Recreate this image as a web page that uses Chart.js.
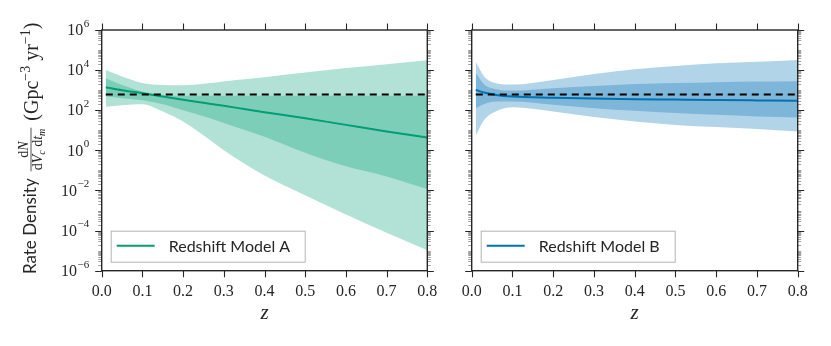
<!DOCTYPE html>
<html>
<head>
<meta charset="utf-8">
<script src="https://cdn.jsdelivr.net/npm/chart.js@4.4.0/dist/chart.umd.min.js"></script>
<style>
  html, body { margin: 0; padding: 0; background: #fff; }
  #wrap { position: relative; width: 831px; height: 346px; }
  #wrap canvas { position: absolute; left: 0; top: 0; }
</style>
</head>
<body>
<div id="wrap">
  <canvas id="chart-a" width="831" height="346"></canvas>
  <canvas id="chart-b" width="831" height="346"></canvas>
</div>
<script>
// Redshift Model A (left panel)
const zA = [0.01, 0.05, 0.1, 0.15, 0.2, 0.25, 0.3, 0.35, 0.4, 0.5, 0.6, 0.7, 0.8];
const medianA = [1410, 1000, 708, 479, 331, 234, 166, 115, 79.4, 39.8, 18.6, 8.7, 4.4];
const inner50HiA = [3980, 1820, 850, 562, 525, 525, 525, 525, 525, 525, 525, 525, 525];
const inner50LoA = [479, 398, 316, 200, 100, 50, 23.4, 10.7, 4.8, 0.76, 0.16, 0.05, 0.0117];
const outer90HiA = [10000, 4790, 2290, 1820, 1780, 2090, 2690, 3470, 4470, 7590, 12600, 19500, 30900];
const outer90LoA = [151, 178, 200, 87, 27.5, 5.6, 1.0, 0.224, 0.056, 0.0058, 6.3e-4, 7.9e-5, 1.05e-5];

// Redshift Model B (right panel)
const zB = [0.01, 0.03, 0.06, 0.1, 0.2, 0.3, 0.4, 0.5, 0.6, 0.7, 0.8];
const medianB = [1020, 759, 575, 479, 417, 380, 355, 339, 324, 309, 295];
const inner50HiB = [7080, 2000, 1120, 955, 1260, 1620, 2040, 2290, 2510, 2690, 2820];
const inner50LoB = [126, 200, 269, 269, 186, 126, 93, 72, 59, 49, 44];
const outer90HiB = [26300, 5010, 2240, 1910, 3240, 6460, 11000, 16200, 21900, 26300, 32400];
const outer90LoB = [5.4, 31.6, 89, 141, 87, 45.7, 27.5, 18.6, 14.5, 11.5, 8.7];

// Constant-rate reference (dashed line)
const constZ = [0.01, 0.8];
const constRate = [600, 600];

// Axes
const xTicks = [0, 0.1, 0.2, 0.3, 0.4, 0.5, 0.6, 0.7, 0.8];
const xTickLabels = ['0.0', '0.1', '0.2', '0.3', '0.4', '0.5', '0.6', '0.7', '0.8'];
const yTickExps = [-6, -4, -2, 0, 2, 4, 6];

const COLORS = {
  green: 'rgb(0, 158, 115)',
  greenBand: 'rgba(0, 158, 115, 0.3)',
  blue: 'rgb(0, 114, 178)',
  blueBand: 'rgba(0, 114, 178, 0.3)',
  axis: '#262626',
  minor: '#8a8a8a',
  legendEdge: '#b4b4b4',
  none: 'rgba(0, 0, 0, 0)'
};

const SERIF = '"Liberation Serif", "DejaVu Serif", serif';
const SANS = 'Lato, "DejaVu Sans", sans-serif';

/**
 * Turn two parallel arrays into {x, y} points
 */
function points(xs, ys) {
  return xs.map((x, i) => ({ x: x, y: ys[i] }));
}

/**
 * Draw a list of text runs one after another, return the advance
 */
function drawRuns(ctx, runs, x, y) {
  let cx = x;
  runs.forEach(r => {
    ctx.font = r.font;
    ctx.fillText(r.t, cx, y + (r.dy || 0));
    cx += ctx.measureText(r.t).width;
  });
  return cx - x;
}

function measureRuns(ctx, runs) {
  let w = 0;
  runs.forEach(r => {
    ctx.font = r.font;
    w += ctx.measureText(r.t).width;
  });
  return w;
}

/**
 * Rotated y axis title: Rate Density dN/(dV_c dt_m) (Gpc^-3 yr^-1)
 */
function drawYTitle(ctx, area) {
  ctx.save();
  ctx.rotate(-Math.PI / 2);
  ctx.fillStyle = COLORS.axis;
  ctx.textAlign = 'left';
  ctx.textBaseline = 'alphabetic';

  const titleFont = '17px ' + SANS;
  const fracFont = '14px ' + SERIF;
  const fracItal = 'italic 14px ' + SERIF;
  const subItal = 'italic 10px ' + SERIF;
  const unitFont = '20px ' + SERIF;
  const supFont = '14px ' + SERIF;

  const numRuns = [{ t: 'd', font: fracFont }, { t: 'N', font: fracItal }];
  const denRuns = [
    { t: 'd', font: fracFont }, { t: 'V', font: fracItal }, { t: 'c', font: subItal, dy: 3 },
    { t: ' d', font: fracFont }, { t: 't', font: fracItal }, { t: 'm', font: subItal, dy: 3 }
  ];
  const unitRuns = [
    { t: '(Gpc', font: unitFont }, { t: '\u22123', font: supFont, dy: -8 },
    { t: ' yr', font: unitFont }, { t: '\u22121', font: supFont, dy: -8 },
    { t: ')', font: unitFont }
  ];

  ctx.font = titleFont;
  const wTitle = ctx.measureText('Rate Density').width;
  const wNum = measureRuns(ctx, numRuns);
  const wDen = measureRuns(ctx, denRuns);
  const wFrac = Math.max(wNum, wDen) + 2;
  const wUnit = measureRuns(ctx, unitRuns);
  const gap1 = 7, gap2 = 7;
  const total = wTitle + gap1 + wFrac + gap2 + wUnit;
  const centerY = (area.top + area.bottom) / 2 - 2;
  let u = -(centerY + total / 2);

  ctx.font = titleFont;
  ctx.fillText('Rate Density', u, 36);
  u += wTitle + gap1;

  // fraction
  drawRuns(ctx, numRuns, u + (wFrac - wNum) / 2, 28);
  ctx.strokeStyle = COLORS.axis;
  ctx.lineWidth = 0.8;
  ctx.beginPath();
  ctx.moveTo(u, 31);
  ctx.lineTo(u + wFrac, 31);
  ctx.stroke();
  drawRuns(ctx, denRuns, u + (wFrac - wDen) / 2, 42);
  u += wFrac + gap2;

  drawRuns(ctx, unitRuns, u, 38);
  ctx.restore();
}

/**
 * Draw "10^exp" right aligned at (x, y)
 */
function drawPower(ctx, exp, x, y) {
  const base = '10';
  const sup = exp < 0 ? '\u2212' + Math.abs(exp) : String(exp);
  ctx.font = '11px ' + SERIF;
  const wSup = ctx.measureText(sup).width;
  ctx.textBaseline = 'middle';
  ctx.textAlign = 'left';
  ctx.fillText(sup, x - wSup, y - 6);
  ctx.font = '16px ' + SERIF;
  ctx.textAlign = 'right';
  ctx.fillText(base, x - wSup - 0.5, y + 1);
}

// Matplotlib style frame, ticks, labels and legend
const mplAxesPlugin = {
  id: 'mplAxes',
  afterDraw(chart, args, opts) {
    const ctx = chart.ctx;
    const area = chart.chartArea;
    const xs = chart.scales.x;
    const ys = chart.scales.y;
    ctx.save();

    // minor y ticks
    ctx.strokeStyle = COLORS.minor;
    ctx.lineWidth = 0.8;
    ctx.beginPath();
    for (let e = -6; e < 6; e++) {
      for (let m = 1; m <= 9; m++) {
        if (m === 1 && yTickExps.includes(e)) continue;
        const py = Math.round(ys.getPixelForValue(m * Math.pow(10, e))) + 0.5;
        ctx.moveTo(area.left - 3.5, py);
        ctx.lineTo(area.left, py);
        ctx.moveTo(area.right, py);
        ctx.lineTo(area.right + 3.5, py);
      }
    }
    ctx.stroke();

    // major ticks
    ctx.strokeStyle = COLORS.axis;
    ctx.lineWidth = 1.1;
    ctx.beginPath();
    yTickExps.forEach(e => {
      const py = Math.round(ys.getPixelForValue(Math.pow(10, e))) + 0.5;
      ctx.moveTo(area.left - 6.5, py);
      ctx.lineTo(area.left, py);
      ctx.moveTo(area.right, py);
      ctx.lineTo(area.right + 6.5, py);
    });
    xTicks.forEach(v => {
      const px = Math.round(xs.getPixelForValue(v)) + 0.5;
      ctx.moveTo(px, area.bottom);
      ctx.lineTo(px, area.bottom + 6.5);
      ctx.moveTo(px, area.top);
      ctx.lineTo(px, area.top - 6.5);
    });
    ctx.stroke();

    // frame
    ctx.lineWidth = 1.4;
    ctx.strokeRect(area.left, area.top, area.right - area.left, area.bottom - area.top);

    // tick labels
    ctx.fillStyle = COLORS.axis;
    ctx.font = '16px ' + SERIF;
    ctx.textAlign = 'center';
    ctx.textBaseline = 'middle';
    xTicks.forEach((v, i) => {
      ctx.fillText(xTickLabels[i], xs.getPixelForValue(v), area.bottom + 21);
    });
    ctx.font = 'italic 21px ' + SERIF;
    ctx.fillText('z', (area.left + area.right) / 2, area.bottom + 43);

    if (opts.yLabels) {
      yTickExps.forEach(e => {
        drawPower(ctx, e, area.left - 12.5, ys.getPixelForValue(Math.pow(10, e)));
      });
      drawYTitle(ctx, area);
    }

    // legend
    const lx = area.left + 9;
    const ly = area.bottom - 40;
    ctx.fillStyle = '#fff';
    ctx.fillRect(lx, ly, 194, 31);
    ctx.strokeStyle = COLORS.legendEdge;
    ctx.lineWidth = 1;
    ctx.strokeRect(lx + 0.5, ly + 0.5, 194, 31);
    ctx.strokeStyle = opts.legendColor;
    ctx.lineWidth = 2;
    ctx.beginPath();
    ctx.moveTo(lx + 6, ly + 15);
    ctx.lineTo(lx + 44, ly + 15);
    ctx.stroke();
    ctx.fillStyle = COLORS.axis;
    ctx.font = '16px ' + SANS;
    ctx.textAlign = 'left';
    ctx.textBaseline = 'middle';
    ctx.fillText(opts.legendText, lx + 58, ly + 16);

    ctx.restore();
  }
};

/**
 * Build one panel
 */
function makePanel(canvasId, z, median, innerHi, innerLo, outerHi, outerLo, color, band, padding, panelOpts) {
  const line = {
    pointRadius: 0,
    cubicInterpolationMode: 'monotone'
  };
  return new Chart(document.getElementById(canvasId), {
    type: 'line',
    data: {
      datasets: [
        Object.assign({ label: '90% upper', data: points(z, outerHi), fill: '+1', backgroundColor: band, borderColor: COLORS.none, borderWidth: 0, order: 4 }, line),
        Object.assign({ label: '90% lower', data: points(z, outerLo), fill: false, borderColor: COLORS.none, borderWidth: 0, order: 4 }, line),
        Object.assign({ label: '50% upper', data: points(z, innerHi), fill: '+1', backgroundColor: band, borderColor: COLORS.none, borderWidth: 0, order: 3 }, line),
        Object.assign({ label: '50% lower', data: points(z, innerLo), fill: false, borderColor: COLORS.none, borderWidth: 0, order: 3 }, line),
        Object.assign({ label: 'median', data: points(z, median), fill: false, borderColor: color, borderWidth: 2, order: 2 }, line),
        { label: 'constant', data: points(constZ, constRate), fill: false, borderColor: '#000', borderWidth: 2, borderDash: [7, 5], pointRadius: 0, order: 1 }
      ]
    },
    options: {
      responsive: false,
      animation: false,
      events: [],
      layout: { padding: padding },
      plugins: {
        legend: { display: false },
        tooltip: { enabled: false },
        mplAxes: panelOpts
      },
      scales: {
        x: { type: 'linear', min: 0, max: 0.8, display: false },
        y: { type: 'logarithmic', min: 1e-6, max: 1e6, display: false }
      }
    },
    plugins: [mplAxesPlugin]
  });
}

makePanel('chart-a', zA, medianA, inner50HiA, inner50LoA, outer90HiA, outer90LoA,
  COLORS.green, COLORS.greenBand,
  { left: 101.7, right: 403.7, top: 30, bottom: 75.3 },
  { yLabels: true, legendText: 'Redshift Model A', legendColor: COLORS.green });

makePanel('chart-b', zB, medianB, inner50HiB, inner50LoB, outer90HiB, outer90LoB,
  COLORS.blue, COLORS.blueBand,
  { left: 471.7, right: 33.3, top: 30, bottom: 75.3 },
  { yLabels: false, legendText: 'Redshift Model B', legendColor: COLORS.blue });
</script>
</body>
</html>
